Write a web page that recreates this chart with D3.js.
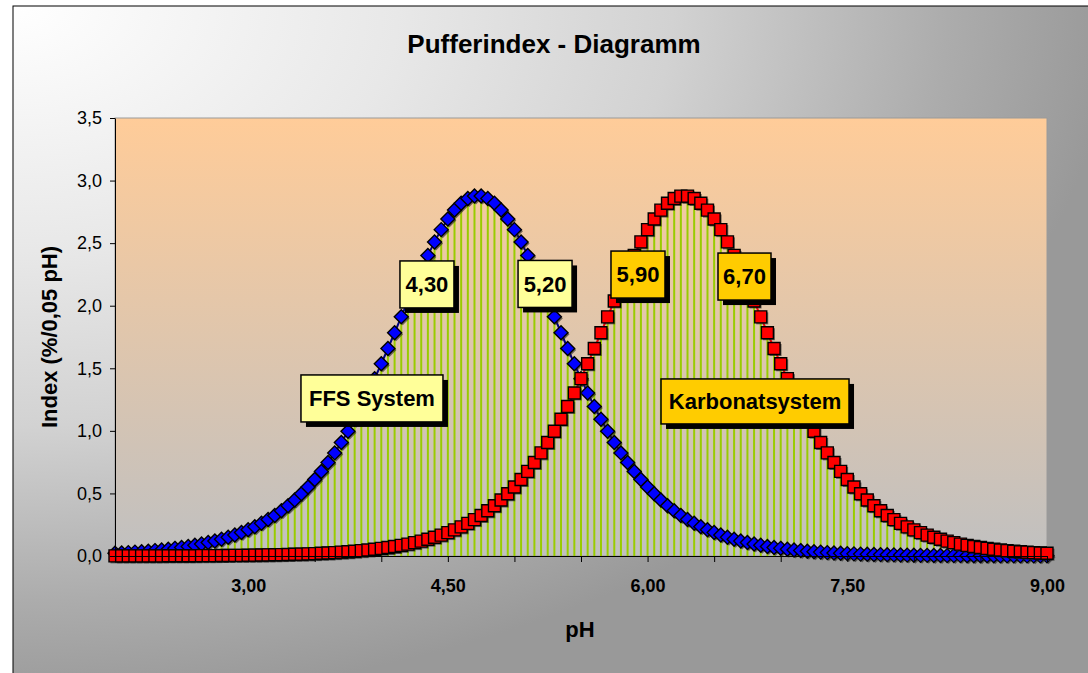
<!DOCTYPE html>
<html>
<head>
<meta charset="utf-8">
<script src="https://cdn.jsdelivr.net/npm/d3@7/dist/d3.min.js"></script>
<style>
body { margin: 0; background: #fff; }
svg { display: block; font-family: Arial, "Liberation Sans", sans-serif; }
</style>
</head>
<body>
<svg width="1088" height="673"></svg>
<script>
// pH steps (0,05)
var pH = [
 2.00,2.05,2.10,2.15,2.20,2.25,2.30,2.35,2.40,2.45,
 2.50,2.55,2.60,2.65,2.70,2.75,2.80,2.85,2.90,2.95,
 3.00,3.05,3.10,3.15,3.20,3.25,3.30,3.35,3.40,3.45,
 3.50,3.55,3.60,3.65,3.70,3.75,3.80,3.85,3.90,3.95,
 4.00,4.05,4.10,4.15,4.20,4.25,4.30,4.35,4.40,4.45,
 4.50,4.55,4.60,4.65,4.70,4.75,4.80,4.85,4.90,4.95,
 5.00,5.05,5.10,5.15,5.20,5.25,5.30,5.35,5.40,5.45,
 5.50,5.55,5.60,5.65,5.70,5.75,5.80,5.85,5.90,5.95,
 6.00,6.05,6.10,6.15,6.20,6.25,6.30,6.35,6.40,6.45,
 6.50,6.55,6.60,6.65,6.70,6.75,6.80,6.85,6.90,6.95,
 7.00,7.05,7.10,7.15,7.20,7.25,7.30,7.35,7.40,7.45,
 7.50,7.55,7.60,7.65,7.70,7.75,7.80,7.85,7.90,7.95,
 8.00,8.05,8.10,8.15,8.20,8.25,8.30,8.35,8.40,8.45,
 8.50,8.55,8.60,8.65,8.70,8.75,8.80,8.85,8.90,8.95,
 9.00];

// FFS System (blau)
var ffs = [
 0.022,0.024,0.027,0.031,0.034,0.038,0.043,0.048,0.054,0.061,
 0.068,0.076,0.085,0.095,0.107,0.119,0.134,0.150,0.167,0.187,
 0.209,0.233,0.261,0.291,0.324,0.361,0.402,0.447,0.497,0.551,
 0.611,0.676,0.747,0.824,0.907,0.997,1.093,1.195,1.303,1.417,
 1.536,1.658,1.784,1.911,2.038,2.164,2.286,2.402,2.510,2.608,
 2.693,2.764,2.819,2.857,2.876,2.876,2.857,2.819,2.764,2.693,
 2.608,2.510,2.402,2.286,2.164,2.038,1.911,1.784,1.658,1.536,
 1.417,1.303,1.195,1.093,0.997,0.907,0.824,0.747,0.676,0.611,
 0.551,0.497,0.447,0.402,0.361,0.324,0.291,0.261,0.233,0.209,
 0.187,0.167,0.150,0.134,0.119,0.107,0.095,0.085,0.076,0.068,
 0.061,0.054,0.048,0.043,0.038,0.034,0.031,0.027,0.024,0.022,
 0.019,0.017,0.015,0.014,0.012,0.011,0.010,0.009,0.008,0.007,
 0.006,0.005,0.005,0.004,0.004,0.003,0.003,0.003,0.002,0.002,
 0.002,0.002,0.002,0.001,0.001,0.001,0.001,0.001,0.001,0.001,
 0.001];

// Karbonatsystem (rot)
var karbonat = [
 0.001,0.001,0.001,0.001,0.001,0.001,0.001,0.001,0.002,0.002,
 0.002,0.002,0.002,0.003,0.003,0.003,0.004,0.004,0.005,0.005,
 0.006,0.007,0.008,0.009,0.010,0.011,0.012,0.014,0.015,0.017,
 0.019,0.022,0.024,0.027,0.031,0.034,0.038,0.043,0.048,0.054,
 0.061,0.068,0.076,0.085,0.095,0.107,0.119,0.134,0.150,0.167,
 0.187,0.209,0.233,0.261,0.291,0.324,0.361,0.402,0.447,0.497,
 0.551,0.611,0.676,0.747,0.824,0.907,0.997,1.093,1.195,1.303,
 1.417,1.536,1.658,1.784,1.911,2.038,2.164,2.286,2.402,2.510,
 2.608,2.693,2.764,2.819,2.857,2.876,2.876,2.857,2.819,2.764,
 2.693,2.608,2.510,2.402,2.286,2.164,2.038,1.911,1.784,1.658,
 1.536,1.417,1.303,1.195,1.093,0.997,0.907,0.824,0.747,0.676,
 0.611,0.551,0.497,0.447,0.402,0.361,0.324,0.291,0.261,0.233,
 0.209,0.187,0.167,0.150,0.134,0.119,0.107,0.095,0.085,0.076,
 0.068,0.061,0.054,0.048,0.043,0.038,0.034,0.031,0.027,0.024,
 0.022];

var yTicks = [0, 0.5, 1, 1.5, 2, 2.5, 3, 3.5];
var xTicks = [2, 2.5, 3, 3.5, 4, 4.5, 5, 5.5, 6, 6.5, 7, 7.5, 8, 8.5, 9];
var xLabels = [3, 4.5, 6, 7.5, 9];

// Textfelder im Diagramm
var noteText = ["4,30", "5,20", "5,90", "6,70", "FFS System", "Karbonatsystem"];
var notePH = [4.343, 5.23, 5.928, 6.728, 3.93, 6.807];
var noteVal = [2.17, 2.174, 2.249, 2.233, 1.259, 1.235];

var svg = d3.select("svg");
var plotL = 115, plotR = 1047, plotT = 118, plotB = 556;

var x = d3.scaleLinear().domain([2, 9]).range([plotL, plotR]);
var y = d3.scaleLinear().domain([0, 3.5]).range([plotB, plotT]);

var de = d3.formatLocale({decimal: ",", thousands: ".", grouping: [3], currency: ["", " €"]});
var f1 = de.format(".1f"), f2 = de.format(".2f");

var defs = svg.append("defs");
var bg = defs.append("radialGradient").attr("id", "bg")
    .attr("cx", 0).attr("cy", 0).attr("fx", 0).attr("fy", 0).attr("r", 1);
bg.append("stop").attr("offset", 0).attr("stop-color", "#ffffff");
bg.append("stop").attr("offset", 0.35).attr("stop-color", "#e8e8e8");
bg.append("stop").attr("offset", 0.6).attr("stop-color", "#d2d2d2");
bg.append("stop").attr("offset", 0.85).attr("stop-color", "#acacac");
bg.append("stop").attr("offset", 1).attr("stop-color", "#999999");

var pa = defs.append("linearGradient").attr("id", "pa")
    .attr("x1", 0).attr("y1", 0).attr("x2", 0).attr("y2", 1);
pa.append("stop").attr("offset", 0).attr("stop-color", "#ffcc99");
pa.append("stop").attr("offset", 1).attr("stop-color", "#c0c0c0");

// Diagrammfläche
svg.append("rect")
    .attr("x", 13).attr("y", 6).attr("width", 1100).attr("height", 700)
    .style("fill", "url(#bg)")
    .attr("stroke", "black").attr("stroke-width", 1);

// Zeichnungsfläche
svg.append("rect")
    .attr("x", plotL).attr("y", plotT).attr("width", plotR - plotL).attr("height", plotB - plotT)
    .style("fill", "url(#pa)")
    .attr("stroke", "#9a9a9a").attr("stroke-width", 1);

// Lotlinien
svg.append("g").selectAll("line")
    .data(pH)
    .enter().append("line")
    .attr("x1", function(d){ return x(d); })
    .attr("x2", function(d){ return x(d); })
    .attr("y1", function(d,i){ return y(Math.max(ffs[i], karbonat[i])); })
    .attr("y2", y(0))
    .attr("stroke", "#99cc00")
    .attr("stroke-width", 2);

var diamond = "M0,-7L7,0L0,7L-7,0Z";
var square = "M-6,-6H6V6H-6Z";

function series(vals, lineColor, shape, fill) {
    var line = d3.line()
        .x(function(d,i){ return x(pH[i]); })
        .y(function(d){ return y(d); });
    svg.append("path")
        .datum(vals)
        .attr("d", line)
        .attr("fill", "none")
        .attr("stroke", lineColor)
        .attr("stroke-width", 2);
    var g = svg.append("g");
    g.selectAll("path.sh")
        .data(vals)
        .enter().append("path")
        .attr("class", "sh")
        .attr("d", shape)
        .attr("transform", function(d,i){ return "translate(" + (x(pH[i]) + 1.5) + "," + (y(d) + 1.5) + ")"; })
        .attr("fill", "#222")
        .attr("opacity", 0.6);
    g.selectAll("path.mk")
        .data(vals)
        .enter().append("path")
        .attr("class", "mk")
        .attr("d", shape)
        .attr("transform", function(d,i){ return "translate(" + x(pH[i]) + "," + y(d) + ")"; })
        .attr("fill", fill)
        .attr("stroke", "black")
        .attr("stroke-width", 1.4);
}

series(ffs, "#000080", diamond, "#0000ff");
series(karbonat, "#ff0000", square, "#ff0000");

// Achsen
var yAxis = svg.append("g")
    .attr("transform", "translate(" + plotL + ",0)")
    .call(d3.axisLeft(y).tickValues(yTicks).tickSize(5).tickSizeOuter(0).tickPadding(8).tickFormat(f1));
yAxis.selectAll("text").style("font-size", "18px").attr("fill", "#000");
yAxis.select(".domain").attr("stroke", "#000");

var xAxis = svg.append("g")
    .attr("transform", "translate(0," + plotB + ")")
    .call(d3.axisBottom(x).tickValues(xTicks).tickSize(6).tickSizeOuter(0).tickPadding(17)
        .tickFormat(function(d){ return xLabels.indexOf(d) >= 0 ? f2(d) : ""; }));
xAxis.selectAll("text").style("font-size", "18px").style("font-weight", "bold").attr("fill", "#000");
xAxis.select(".domain").attr("stroke", "#000");

// Textfelder
var boxW = [54, 54, 54, 53, 142, 188];
var boxH = [47, 47, 47, 47, 47, 45];
var boxFill = ["#ffff99", "#ffff99", "#ffcc00", "#ffcc00", "#ffff99", "#ffcc00"];

var notes = svg.append("g").selectAll("g")
    .data(noteText)
    .enter().append("g")
    .attr("transform", function(d,i){
        return "translate(" + (x(notePH[i]) - boxW[i] / 2) + "," + (y(noteVal[i]) - boxH[i] / 2) + ")";
    });
notes.append("rect")
    .attr("x", 5).attr("y", 5)
    .attr("width", function(d,i){ return boxW[i]; })
    .attr("height", function(d,i){ return boxH[i]; })
    .attr("fill", "black");
notes.append("rect")
    .attr("width", function(d,i){ return boxW[i]; })
    .attr("height", function(d,i){ return boxH[i]; })
    .attr("fill", function(d,i){ return boxFill[i]; })
    .attr("stroke", "black")
    .attr("stroke-width", 1.5);
notes.append("text")
    .attr("x", function(d,i){ return boxW[i] / 2; })
    .attr("y", function(d,i){ return boxH[i] / 2; })
    .attr("dy", "0.36em")
    .attr("text-anchor", "middle")
    .style("font-size", "22px")
    .style("font-weight", "bold")
    .text(function(d){ return d; });

// Titel
svg.append("text")
    .attr("x", 554).attr("y", 53)
    .attr("text-anchor", "middle")
    .style("font-size", "26px").style("font-weight", "bold")
    .text("Pufferindex - Diagramm");

svg.append("text")
    .attr("x", 580).attr("y", 637)
    .attr("text-anchor", "middle")
    .style("font-size", "22px").style("font-weight", "bold")
    .text("pH");

svg.append("text")
    .attr("transform", "translate(57,337) rotate(-90)")
    .attr("text-anchor", "middle")
    .style("font-size", "22px").style("font-weight", "bold")
    .text("Index (%/0,05 pH)");
</script>
</body>
</html>
